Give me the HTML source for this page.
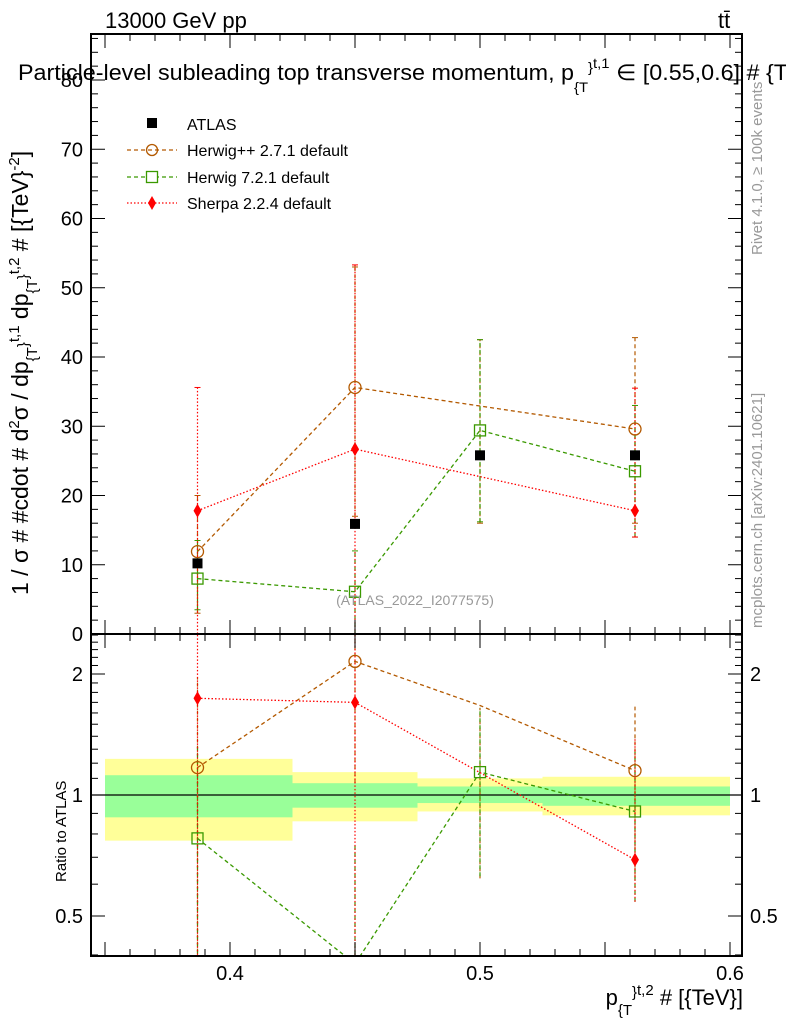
<!DOCTYPE html>
<html><head><meta charset="utf-8"><style>
html,body{margin:0;padding:0;background:#fff;overflow:hidden}
svg{display:block}
svg text{font-family:"Liberation Sans",sans-serif}
</style></head><body>
<svg id="c" width="786" height="1024" xmlns="http://www.w3.org/2000/svg">
<rect width="786" height="1024" fill="#fff"/>
<g id="bands"></g>
<g id="marks"></g>
<g id="axes"></g>
<text x="105" y="28" font-size="22">13000 GeV pp</text>
<text x="718" y="28" font-size="22">tt̄</text>
<text x="18" y="80" font-size="22" textLength="770" lengthAdjust="spacingAndGlyphs">Particle-level subleading top transverse momentum, p<tspan font-size="14" dy="12">{T</tspan><tspan font-size="14" dy="-20">}</tspan><tspan font-size="14" dy="-4">t,1</tspan><tspan dy="12"> ∈ [0.55,0.6] # {T</tspan></text>
<text transform="translate(28,595) rotate(-90)" font-size="23">1 / σ # #cdot # d<tspan font-size="15" dy="-9">2</tspan><tspan dy="9">σ / dp</tspan><tspan font-size="15" dy="9">{T</tspan><tspan font-size="15" dy="-9">}</tspan><tspan font-size="15" dy="-9">t,1</tspan><tspan dy="9"> dp</tspan><tspan font-size="15" dy="9">{T</tspan><tspan font-size="15" dy="-9">}</tspan><tspan font-size="15" dy="-9">t,2</tspan><tspan dy="9"> # [{TeV}</tspan><tspan font-size="15" dy="-9">-2</tspan><tspan dy="9">]</tspan></text>
<text transform="translate(66,882) rotate(-90)" font-size="15">Ratio to ATLAS</text>
<text x="743" y="1005" font-size="22" text-anchor="end">p<tspan font-size="15" dy="10">{T</tspan><tspan font-size="15" dy="-18">}</tspan><tspan font-size="15" dy="-2">t,2</tspan><tspan dy="10"> # [{TeV}]</tspan></text>
<text x="415" y="605" font-size="14" fill="#999" text-anchor="middle">(ATLAS_2022_I2077575)</text>
<text transform="translate(762,255) rotate(-90)" font-size="15" fill="#999">Rivet 4.1.0, ≥ 100k events</text>
<text transform="translate(762,628) rotate(-90)" font-size="15" fill="#999">mcplots.cern.ch [arXiv:2401.10621]</text>
<g>
<rect x="147" y="118" width="10" height="10" fill="#000"/>
<text x="187" y="130" font-size="16">ATLAS</text>
<line x1="127" y1="150" x2="177" y2="150" stroke="#b35900" stroke-dasharray="4,3" stroke-width="1.3"/>
<circle cx="152" cy="150" r="5.5" fill="none" stroke="#b35900" stroke-width="1.3"/>
<text x="187" y="156" font-size="16">Herwig++ 2.7.1 default</text>
<line x1="127" y1="177" x2="177" y2="177" stroke="#3a9900" stroke-dasharray="4,3" stroke-width="1.3"/>
<rect x="146.5" y="171.5" width="11" height="11" fill="#fff" stroke="#3a9900" stroke-width="1.3"/>
<text x="187" y="183" font-size="16">Herwig 7.2.1 default</text>
<line x1="127" y1="203" x2="177" y2="203" stroke="#f00" stroke-dasharray="1.5,2" stroke-width="1.3"/>
<path d="M152 196 L156 203 L152 210 L148 203Z" fill="#f00"/>
<text x="187" y="209" font-size="16">Sherpa 2.2.4 default</text>
</g>
</svg>
<script>
const xs=[0.387,0.45,0.5,0.562];
const atlas=[10.2,15.9,25.8,25.8];
const hpp=[11.9,35.6,null,29.6];
const hppErr=[[3,20],[17,53],[16,42.5],[16,42.8]];
const h7=[8.0,6.1,29.4,23.5];
const h7Err=[[3.5,13.5],[-2,12],[16.2,42.5],[14,33]];
const sh=[17.8,26.7,null,17.8];
const shErr=[[-2,35.6],[-2,53.3],[null,null],[14,35.5]];
const rHpp=[1.17,2.15,1.67,1.15];
const rH7=[0.78,0.38,1.14,0.91];
const rSh=[1.74,1.7,null,0.69];
const binEdges=[0.35,0.425,0.475,0.525,0.6];
const yelLo=[0.77,0.86,0.91,0.89], yelHi=[1.23,1.14,1.1,1.11];
const grnLo=[0.88,0.93,0.955,0.94], grnHi=[1.12,1.07,1.05,1.05];
const yTicks=[0,10,20,30,40,50,60,70,80];
const rTicks=[0.5,1,2];
const xTicks=[0.4,0.5,0.6];

const L=91,R=742,T=34,M=634,B=956;
const X=v=>230+(v-0.4)*2500;
const Y=v=>634-v*6.925;
const RY=v=>795-Math.log2(v)*121;
const NS='http://www.w3.org/2000/svg';
function el(p,t,a){const e=document.createElementNS(NS,t);for(const k in a)e.setAttribute(k,a[k]);p.appendChild(e);return e;}
const bands=document.getElementById('bands'),marks=document.getElementById('marks'),axes=document.getElementById('axes');
for(let i=0;i<4;i++){
 const y=el(bands,'rect',{x:X(binEdges[i]),y:RY(yelHi[i]),width:X(binEdges[i+1])-X(binEdges[i]),height:RY(yelLo[i])-RY(yelHi[i]),fill:'#ffff99'});
 
 
 const g=el(bands,'rect',{x:X(binEdges[i]),y:RY(grnHi[i]),width:X(binEdges[i+1])-X(binEdges[i]),height:RY(grnLo[i])-RY(grnHi[i]),fill:'#99ff99'});
 
 
}
el(bands,'line',{x1:L,x2:R,y1:RY(1),y2:RY(1),stroke:'#000','stroke-width':1.2});
const defs=el(marks,'defs',{});
const c1=el(defs,'clipPath',{id:'cm'});el(c1,'rect',{x:L,y:T,width:R-L,height:M-T});
const c2=el(defs,'clipPath',{id:'cr'});el(c2,'rect',{x:L,y:M,width:R-L,height:B-M});
const gm=el(marks,'g',{'clip-path':'url(#cm)'}),gr=el(marks,'g',{'clip-path':'url(#cr)'});
function line(g,vals,fy,col,dash,name){
 const pts=[];vals.forEach((v,i)=>{if(v!=null)pts.push(X(xs[i])+','+fy(v));});
 const p=el(g,'polyline',{points:pts.join(' '),fill:'none',stroke:col,'stroke-dasharray':dash,'stroke-width':1.3});
 
 
}
function errs(g,errArr,col,dash){errArr.forEach((e,i)=>{if(e[0]==null)return;el(g,'line',{x1:X(xs[i]),x2:X(xs[i]),y1:Y(e[0]),y2:Y(e[1]),stroke:col,'stroke-dasharray':dash,'stroke-width':1.2});
 [e[0],e[1]].forEach(v=>el(g,'line',{x1:X(xs[i])-3,x2:X(xs[i])+3,y1:Y(v),y2:Y(v),stroke:col,'stroke-width':1}));});}
function marker(g,type,x,y,col){
 let m;
 if(type==='c')m=el(g,'circle',{cx:x,cy:y,r:6,fill:'none',stroke:col,'stroke-width':1.3});
 else if(type==='s')m=el(g,'rect',{x:x-5.5,y:y-5.5,width:11,height:11,fill:'none',stroke:col,'stroke-width':1.3});
 else if(type==='d')m=el(g,'path',{d:`M${x} ${y-7}L${x+4} ${y}L${x} ${y+7}L${x-4} ${y}Z`,fill:col});
 else m=el(g,'rect',{x:x-5,y:y-5,width:10,height:10,fill:col});
 
 
}
errs(gm,hppErr,'#b35900','4,3');errs(gm,h7Err,'#3a9900','4,3');errs(gm,shErr,'#f00','1.5,2');
line(gm,hpp,Y,'#b35900','4,3','herwigpp-line');line(gm,h7,Y,'#3a9900','4,3','herwig7-line');line(gm,sh,Y,'#f00','1.5,2','sherpa-line');
xs.forEach((x,i)=>{marker(gm,'a',X(x),Y(atlas[i]),'#000');
 if(hpp[i]!=null)marker(gm,'c',X(x),Y(hpp[i]),'#b35900');
 marker(gm,'s',X(x),Y(h7[i]),'#3a9900');
 if(sh[i]!=null)marker(gm,'d',X(x),Y(sh[i]),'#f00');});
function rerrs(errArr,col,dash){errArr.forEach((e,i)=>{if(e[0]==null)return;const lo=Math.max(e[0]/atlas[i],0.01),hi=e[1]/atlas[i];
 el(gr,'line',{x1:X(xs[i]),x2:X(xs[i]),y1:RY(lo),y2:RY(hi),stroke:col,'stroke-dasharray':dash,'stroke-width':1.2});});}
rerrs(hppErr,'#b35900','4,3');rerrs(h7Err,'#3a9900','4,3');rerrs(shErr,'#f00','1.5,2');
line(gr,rHpp,RY,'#b35900','4,3','ratio-herwigpp-line');line(gr,rH7,RY,'#3a9900','4,3','ratio-herwig7-line');line(gr,rSh,RY,'#f00','1.5,2','ratio-sherpa-line');
xs.forEach((x,i)=>{if(i!==2)marker(gr,'c',X(x),RY(rHpp[i]),'#b35900');
 if(rH7[i]>0.4)marker(gr,'s',X(x),RY(rH7[i]),'#3a9900');
 if(rSh[i]!=null)marker(gr,'d',X(x),RY(rSh[i]),'#f00');});
el(axes,'rect',{x:L,y:T,width:R-L,height:M-T,fill:'none',stroke:'#000','stroke-width':2});
el(axes,'rect',{x:L,y:M,width:R-L,height:B-M,fill:'none',stroke:'#000','stroke-width':2});
for(let v=0;v<=86;v+=2){const big=v%10===0,len=big?14:7;
 el(axes,'line',{x1:L,x2:L+len,y1:Y(v),y2:Y(v),stroke:'#000'});el(axes,'line',{x1:R-len,x2:R,y1:Y(v),y2:Y(v),stroke:'#000'});}
yTicks.forEach(v=>{const t=el(axes,'text',{x:L-8,y:Y(v)+7,'font-size':20,'text-anchor':'end'});t.textContent=v;
 
 });
[0.4,0.5,0.6,0.7,0.8,0.9,1,1.1,1.2,1.3,1.4,1.5,1.6,1.7,1.8,1.9,2,2.1,2.2,2.3,2.4,2.5].forEach(v=>{const big=[0.5,1,2].includes(v),len=big?14:7;
 if(RY(v)<M||RY(v)>B)return;
 el(axes,'line',{x1:L,x2:L+len,y1:RY(v),y2:RY(v),stroke:'#000'});el(axes,'line',{x1:R-len,x2:R,y1:RY(v),y2:RY(v),stroke:'#000'});});
rTicks.forEach(v=>{const t=el(axes,'text',{x:L-8,y:RY(v)+7,'font-size':20,'text-anchor':'end'});t.textContent=v;
 
 
 const t2=el(axes,'text',{x:R+8,y:RY(v)+7,'font-size':20});t2.textContent=v;
 
 });
for(let i=0;i<=25;i++){const v=0.35+i*0.01;const len=(Math.round(v*100)%5===0)?14:7;
 [[T,1],[M,1],[M,-1],[B,-1]].forEach(([y0,d])=>el(axes,'line',{x1:X(v),x2:X(v),y1:y0,y2:y0+d*len,stroke:'#000'}));}
xTicks.forEach(v=>{const t=el(axes,'text',{x:X(v),y:980,'font-size':20,'text-anchor':'middle'});t.textContent=v;
 
 });
</script>
</body></html>
